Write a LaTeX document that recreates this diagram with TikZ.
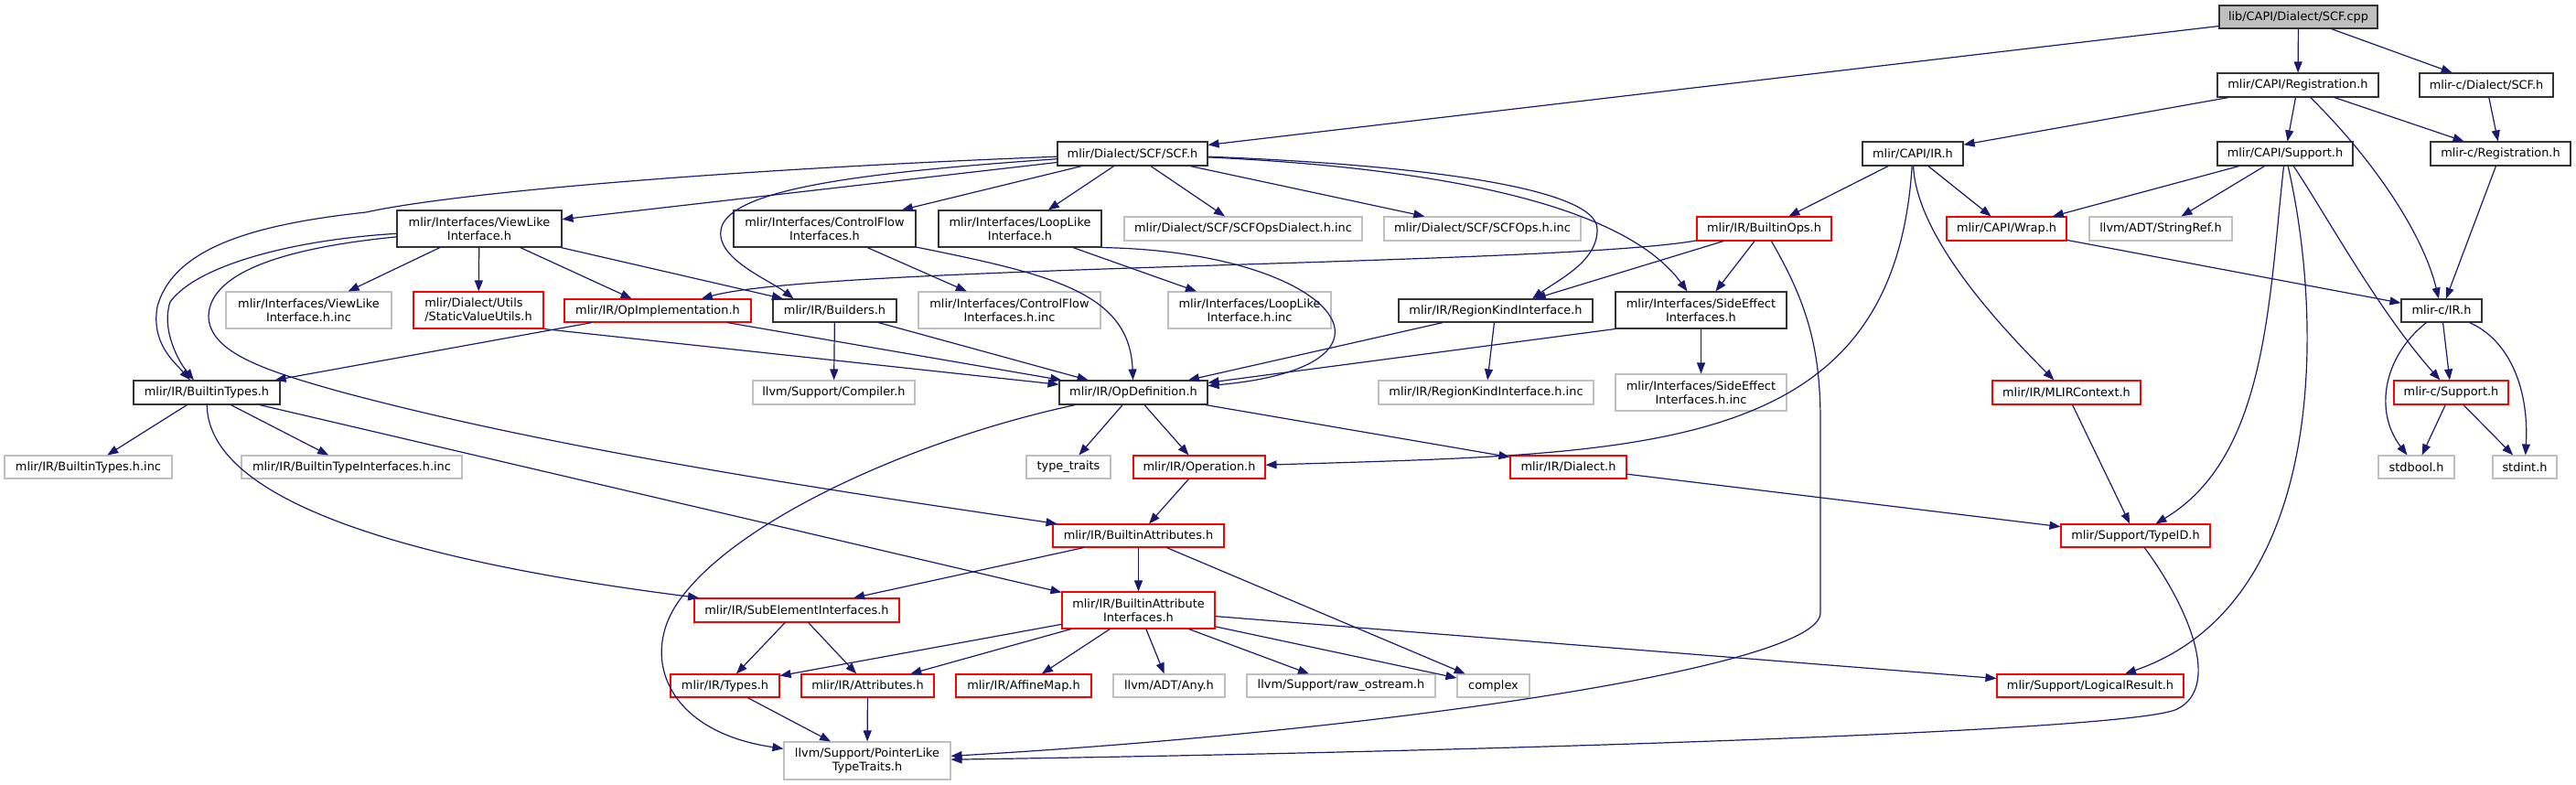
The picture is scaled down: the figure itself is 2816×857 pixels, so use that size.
\documentclass[tikz,border=0pt]{standalone}
\usepackage{fontspec}
\setmainfont{DejaVu Sans}
\usetikzlibrary{arrows.meta}
\definecolor{edgec}{HTML}{191970}
\definecolor{grayb}{HTML}{BFBFBF}
\definecolor{boxk}{HTML}{333333}
\newcommand\mkbox[7]{\node[#6, minimum width={(#4)-(#2)}, minimum height={(#5)-(#3)}] (#1) at ({((#2)+(#4))/2},{((#3)+(#5))/2}) {#7};}
\begin{document}
\begin{tikzpicture}[x=1pt,y=-1pt,
  font=\fontsize{12.9}{15}\selectfont,
  box/.style={draw, inner sep=0pt, line width=1.1pt, align=center, text=black},
  blk/.style={box, draw=boxk},
  gry/.style={box, draw=grayb},
  rd/.style={box, draw=red},
  rootbox/.style={box, draw=boxk, fill=grayb},
  conn/.style={draw=edgec, line width=1.2pt, -{Triangle[length=12pt,width=9pt]}}]
\useasboundingbox[fill=white] (0,0) rectangle (2816,857);
% nodes
\mkbox{root}{2426}{6}{2599}{31}{rootbox}{lib/CAPI/Dialect/SCF.cpp}
\mkbox{reg}{2424}{80}{2600}{106}{blk}{mlir/CAPI/Registration.h}
\mkbox{cscf}{2645}{80}{2791}{106}{blk}{mlir-c/Dialect/SCF.h}
\mkbox{scf}{1156}{155}{1320}{181}{blk}{mlir/Dialect/SCF/SCF.h}
\mkbox{capiir}{2036}{155}{2146}{181}{blk}{mlir/CAPI/IR.h}
\mkbox{capisup}{2424}{155}{2572}{181}{blk}{mlir/CAPI/Support.h}
\mkbox{creg}{2657}{155}{2810}{181}{blk}{mlir-c/Registration.h}
\mkbox{viewlike}{434}{230}{614}{270}{blk}{mlir/Interfaces/ViewLike\\Interface.h}
\mkbox{controlflow}{802}{230}{1001}{270}{blk}{mlir/Interfaces/ControlFlow\\Interfaces.h}
\mkbox{looplike}{1026}{230}{1204}{270}{blk}{mlir/Interfaces/LoopLike\\Interface.h}
\mkbox{scfopsdialect}{1229}{237}{1489}{263}{gry}{mlir/Dialect/SCF/SCFOpsDialect.h.inc}
\mkbox{scfops}{1513}{237}{1728}{263}{gry}{mlir/Dialect/SCF/SCFOps.h.inc}
\mkbox{builtinops}{1855}{237}{2002}{263}{rd}{mlir/IR/BuiltinOps.h}
\mkbox{wrap}{2128}{237}{2259}{263}{rd}{mlir/CAPI/Wrap.h}
\mkbox{stringref}{2284}{237}{2440}{263}{gry}{llvm/ADT/StringRef.h}
\mkbox{viewlikeinc}{247}{319}{428}{359}{gry}{mlir/Interfaces/ViewLike\\Interface.h.inc}
\mkbox{staticvalue}{452}{319}{594}{359}{rd,align=left}{mlir/Dialect/Utils\\/StaticValueUtils.h}
\mkbox{opimpl}{617}{327}{821}{352}{rd}{mlir/IR/OpImplementation.h}
\mkbox{builders}{845}{327}{980}{352}{blk}{mlir/IR/Builders.h}
\mkbox{controlflowinc}{1004}{319}{1203}{359}{gry}{mlir/Interfaces/ControlFlow\\Interfaces.h.inc}
\mkbox{looplikeinc}{1277}{319}{1455}{359}{gry}{mlir/Interfaces/LoopLike\\Interface.h.inc}
\mkbox{regionkind}{1529}{327}{1741}{352}{blk}{mlir/IR/RegionKindInterface.h}
\mkbox{sideeffect}{1766}{319}{1953}{359}{blk}{mlir/Interfaces/SideEffect\\Interfaces.h}
\mkbox{cir}{2625}{327}{2713}{352}{blk}{mlir-c/IR.h}
\mkbox{builtintypes}{146}{416}{306}{442}{blk}{mlir/IR/BuiltinTypes.h}
\mkbox{compiler}{823}{416}{1000}{442}{gry}{llvm/Support/Compiler.h}
\mkbox{opdef}{1158}{416}{1320}{442}{blk}{mlir/IR/OpDefinition.h}
\mkbox{regionkindinc}{1507}{416}{1742}{442}{gry}{mlir/IR/RegionKindInterface.h.inc}
\mkbox{sideeffectinc}{1766}{409}{1953}{449}{gry}{mlir/Interfaces/SideEffect\\Interfaces.h.inc}
\mkbox{mlircontext}{2178}{416}{2340}{442}{rd}{mlir/IR/MLIRContext.h}
\mkbox{csupport}{2617}{416}{2742}{442}{rd}{mlir-c/Support.h}
\mkbox{builtintypesinc}{5}{498}{188}{523}{gry}{mlir/IR/BuiltinTypes.h.inc}
\mkbox{builtintypeifaceinc}{264}{498}{505}{523}{gry}{mlir/IR/BuiltinTypeInterfaces.h.inc}
\mkbox{typetraits}{1122}{498}{1214}{523}{gry}{type\_traits}
\mkbox{operation}{1239}{498}{1383}{523}{rd}{mlir/IR/Operation.h}
\mkbox{dialect}{1651}{498}{1778}{523}{rd}{mlir/IR/Dialect.h}
\mkbox{stdbool}{2600}{498}{2683}{523}{gry}{stdbool.h}
\mkbox{stdint}{2725}{498}{2795}{523}{gry}{stdint.h}
\mkbox{builtinattrs}{1151}{573}{1338}{598}{rd}{mlir/IR/BuiltinAttributes.h}
\mkbox{typeid}{2253}{573}{2416}{598}{rd}{mlir/Support/TypeID.h}
\mkbox{subelem}{759}{654}{983}{680}{rd}{mlir/IR/SubElementInterfaces.h}
\mkbox{builtinattrifaces}{1161}{647}{1328}{687}{rd}{mlir/IR/BuiltinAttribute\\Interfaces.h}
\mkbox{types}{733}{737}{852}{762}{rd}{mlir/IR/Types.h}
\mkbox{attributes}{876}{737}{1021}{762}{rd}{mlir/IR/Attributes.h}
\mkbox{affinemap}{1045}{737}{1193}{762}{rd}{mlir/IR/AffineMap.h}
\mkbox{any}{1217}{737}{1339}{762}{gry}{llvm/ADT/Any.h}
\mkbox{rawostream}{1363}{737}{1569}{762}{gry}{llvm/Support/raw\_ostream.h}
\mkbox{complex}{1593}{737}{1672}{762}{gry}{complex}
\mkbox{logicalresult}{2183}{737}{2387}{762}{rd}{mlir/Support/LogicalResult.h}
\mkbox{pointerlike}{857}{811}{1039}{852}{gry}{llvm/Support/PointerLike\\TypeTraits.h}
% edges
\draw[conn] (root) -- (scf);
\draw[conn] (root) -- (reg);
\draw[conn] (root) -- (cscf);
\draw[conn] (reg) -- (capiir);
\draw[conn] (reg) -- (capisup);
\draw[conn] (reg) -- (creg);
\draw[conn] (reg) .. controls (2600,180) and (2650,260) .. (cir);
\draw[conn] (cscf) -- (creg);
\draw[conn] (creg) -- (cir);
\draw[conn] (scf) .. controls (800,185) and (500,210) .. (400,232) .. controls (280,245) and (190,270) .. (172,335) .. controls (165,375) and (190,395) .. ([xshift=-18pt]builtintypes.north);
\draw[conn] (scf) -- (viewlike);
\draw[conn] (scf) .. controls (950,188) and (810,205) .. (790,245) .. controls (775,280) and (840,305) .. ([xshift=-45pt]builders.north);
\draw[conn] (scf) -- (controlflow);
\draw[conn] (scf) -- (looplike);
\draw[conn] (scf) -- (scfopsdialect);
\draw[conn] (scf) -- (scfops);
\draw[conn] (scf) .. controls (1550,180) and (1745,205) .. (1746,250) .. controls (1747,285) and (1705,305) .. ([xshift=40pt]regionkind.north);
\draw[conn] (scf) .. controls (1600,185) and (1780,230) .. (sideeffect);
\draw[conn] (capiir) -- (builtinops);
\draw[conn] (capiir) -- (wrap);
\draw[conn] (capiir) .. controls (2095,260) and (2190,360) .. (mlircontext);
\draw[conn] (capiir) .. controls (2070,500) and (1800,495) .. (operation);
\draw[conn] (capisup) -- (wrap);
\draw[conn] (capisup) -- (stringref);
\draw[conn] (capisup) .. controls (2480,330) and (2478,500) .. (typeid);
\draw[conn] (capisup) .. controls (2540,350) and (2545,660) .. (logicalresult);
\draw[conn] (capisup) .. controls (2540,230) and (2600,340) .. (csupport);
\draw[conn] (builtinops) .. controls (1700,290) and (900,290) .. (opimpl);
\draw[conn] (builtinops) -- (regionkind);
\draw[conn] (builtinops) -- (sideeffect);
\draw[conn] (builtinops) .. controls (1975,330) and (1990,380) .. (1990,460) -- (1990,670) .. controls (1990,730) and (1500,800) .. (pointerlike);
\draw[conn] (wrap) -- (cir);
\draw[conn] (viewlike) -- (viewlikeinc);
\draw[conn] (viewlike) -- (staticvalue);
\draw[conn] (viewlike) -- (opimpl);
\draw[conn] (viewlike) -- (builders);
\draw[conn] (viewlike) .. controls (320,262) and (215,290) .. (186,330) .. controls (176,360) and (195,395) .. ([xshift=-14pt]builtintypes.north);
\draw[conn] (viewlike) .. controls (320,270) and (230,295) .. (228,345) .. controls (228,385) and (290,405) .. (368,427) .. controls (600,490) and (900,535) .. (builtinattrs);
\draw[conn] (controlflow) -- (controlflowinc);
\draw[conn] (controlflow) .. controls (1150,300) and (1235,320) .. (opdef);
\draw[conn] (looplike) -- (looplikeinc);
\draw[conn] (looplike.south east) .. controls (1460,275) and (1560,400) .. (opdef);
\draw[conn] (staticvalue.south east) -- (opdef);
\draw[conn] (opimpl) -- (builtintypes);
\draw[conn] (opimpl) -- (opdef);
\draw[conn] (builders) -- (compiler);
\draw[conn] (builders) -- (opdef);
\draw[conn] (regionkind) -- (regionkindinc);
\draw[conn] (regionkind) -- (opdef);
\draw[conn] (sideeffect) -- (sideeffectinc);
\draw[conn] (sideeffect.south west) -- (opdef);
\draw[conn] (cir) -- (csupport);
\draw[conn] (cir) .. controls (2605,390) and (2595,450) .. (stdbool);
\draw[conn] (cir) .. controls (2740,370) and (2765,420) .. (stdint);
\draw[conn] (builtintypes) -- (builtintypesinc);
\draw[conn] (builtintypes) -- (builtintypeifaceinc);
\draw[conn] (builtintypes) .. controls (228,560) and (500,620) .. (subelem);
\draw[conn] (builtintypes) -- (builtinattrifaces);
\draw[conn] (opdef) -- (typetraits);
\draw[conn] (opdef) -- (operation);
\draw[conn] (opdef) -- (dialect);
\draw[conn] (opdef) .. controls (1000,480) and (800,570) .. (740,660) .. controls (700,720) and (730,800) .. (pointerlike);
\draw[conn] (mlircontext) -- (typeid);
\draw[conn] (csupport) -- (stdbool);
\draw[conn] (csupport) -- (stdint);
\draw[conn] (operation) -- (builtinattrs);
\draw[conn] (dialect) -- (typeid);
\draw[conn] (builtinattrs) -- (subelem);
\draw[conn] (builtinattrs) -- (builtinattrifaces);
\draw[conn] (builtinattrs) -- (complex);
\draw[conn] (typeid) .. controls (2390,660) and (2430,750) .. (2380,775) .. controls (2330,800) and (1600,822) .. (pointerlike);
\draw[conn] (subelem) -- (types);
\draw[conn] (subelem) -- (attributes);
\draw[conn] (builtinattrifaces) -- (types);
\draw[conn] (builtinattrifaces) -- (attributes);
\draw[conn] (builtinattrifaces) -- (affinemap);
\draw[conn] (builtinattrifaces) -- (any);
\draw[conn] (builtinattrifaces) -- (rawostream);
\draw[conn] (builtinattrifaces) -- (complex);
\draw[conn] (builtinattrifaces) -- (logicalresult);
\draw[conn] (types) -- (pointerlike);
\draw[conn] (attributes) -- (pointerlike);
\end{tikzpicture}
\end{document}
